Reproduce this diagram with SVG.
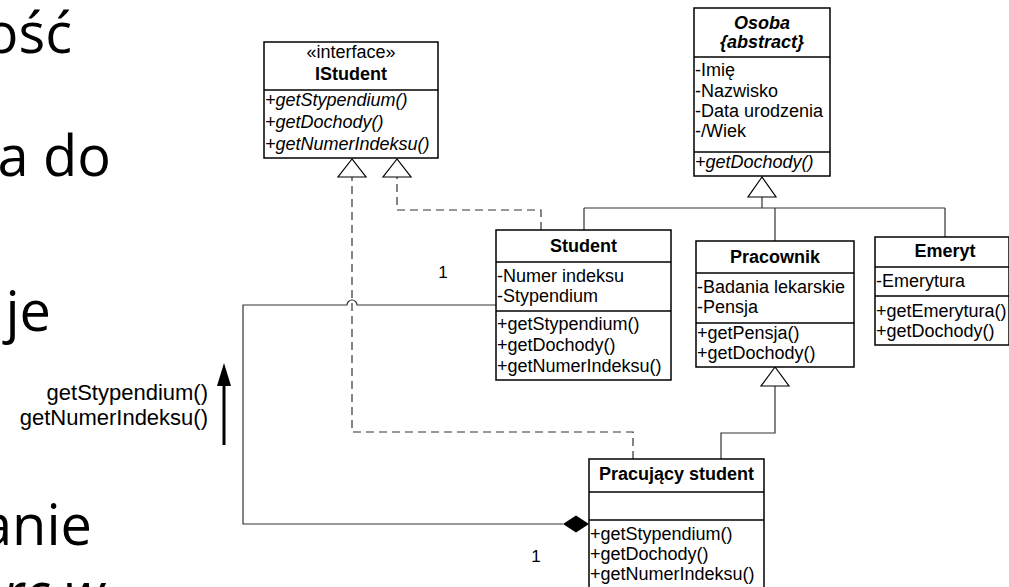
<svg xmlns="http://www.w3.org/2000/svg" width="1009" height="587" viewBox="0 0 1009 587">
<style>
.bg{fill:#fff}
.box{fill:#fff;stroke:#000;stroke-width:1.5}
.sep{stroke:#000;stroke-width:1.5}
.t{font-family:"Liberation Sans",Arial,sans-serif;font-size:18px;fill:#000}
.b{font-weight:bold}
.i{font-style:italic}
.c{text-anchor:middle}
.e{text-anchor:end}
.big{font-family:"Open Sans","Noto Sans",sans-serif;font-size:56px;fill:#000;text-anchor:end}
.ln{fill:none;stroke:#333;stroke-width:1.2}
.dash{stroke-dasharray:8 5}
.tri{fill:#fff;stroke:#000;stroke-width:1.2}
</style>
<rect class="bg" x="0" y="0" width="1009" height="587"/>

<g id="slide-text">
<text class="big" x="72" y="53">ość</text>
<text class="big" x="111" y="176">a do</text>
<text class="big" x="51" y="331">je</text>
<text class="big" x="92" y="545">anie</text>
<text class="big i" x="104" y="613">rc w</text>
</g>

<g id="connectors">
<path class="ln" d="M762,197 V208 M584,208 H945 M584,208 V230 M775,208 V241 M945,208 V237"/>
<polygon class="tri" points="762,177 748,197 776,197"/>
<path class="ln dash" d="M541,230 V210 H397 V177"/>
<polygon class="tri" points="397,159 383,177 411,177"/>
<path class="ln dash" d="M633,459 V432 H352 V177"/>
<polygon class="tri" points="352,159 338,177 366,177"/>
<path class="ln" d="M775,386 V433 H721 V459"/>
<polygon class="tri" points="775,367 761,386 789,386"/>
<path class="ln" d="M496,305 H357 A5,5 0 0 0 347,305 H243 V524 H563"/>
<polygon points="589,524 576,515.5 563,524 576,532.5" fill="#000"/>
<text class="t" x="443" y="278" style="font-size:17px" text-anchor="middle">1</text>
<text class="t" x="536" y="562" style="font-size:17px" text-anchor="middle">1</text>
<line x1="224" y1="445" x2="224" y2="380" stroke="#000" stroke-width="3"/>
<polygon points="224,363 217,386 231,386" fill="#000"/>
<text class="t e" x="208" y="400" style="font-size:22px">getStypendium()</text>
<text class="t e" x="208" y="425" style="font-size:22px">getNumerIndeksu()</text>
</g>

<g id="IStudent">
<rect class="box" x="264" y="42" width="174" height="116"/>
<line class="sep" x1="264" y1="90" x2="438" y2="90"/>
<text class="t c" x="351" y="58">«interface»</text>
<text class="t c b" x="351" y="80">IStudent</text>
<text class="t i" x="265" y="106">+getStypendium()</text>
<text class="t i" x="265" y="128">+getDochody()</text>
<text class="t i" x="265" y="150">+getNumerIndeksu()</text>
</g>

<g id="Osoba">
<rect class="box" x="694" y="8" width="136" height="168"/>
<line class="sep" x1="694" y1="57" x2="830" y2="57"/>
<line class="sep" x1="694" y1="152" x2="830" y2="152"/>
<text class="t c b i" x="762" y="29">Osoba</text>
<text class="t c b i" x="762" y="48">{abstract}</text>
<text class="t" x="695" y="76">-Imię</text>
<text class="t" x="695" y="97">-Nazwisko</text>
<text class="t" x="695" y="117">-Data urodzenia</text>
<text class="t" x="695" y="137">-/Wiek</text>
<text class="t i" x="695" y="168">+getDochody()</text>
</g>

<g id="Student">
<rect class="box" x="496" y="230" width="175" height="150"/>
<line class="sep" x1="496" y1="262" x2="671" y2="262"/>
<line class="sep" x1="496" y1="311" x2="671" y2="311"/>
<text class="t c b" x="583.5" y="252">Student</text>
<text class="t" x="497" y="282">-Numer indeksu</text>
<text class="t" x="497" y="302">-Stypendium</text>
<text class="t" x="497" y="330">+getStypendium()</text>
<text class="t" x="497" y="351">+getDochody()</text>
<text class="t" x="497" y="372">+getNumerIndeksu()</text>
</g>

<g id="Pracownik">
<rect class="box" x="696" y="241" width="158" height="126"/>
<line class="sep" x1="696" y1="273" x2="854" y2="273"/>
<line class="sep" x1="696" y1="323" x2="854" y2="323"/>
<text class="t c b" x="775" y="263">Pracownik</text>
<text class="t" x="697" y="293">-Badania lekarskie</text>
<text class="t" x="697" y="313">-Pensja</text>
<text class="t" x="697" y="339">+getPensja()</text>
<text class="t" x="697" y="359">+getDochody()</text>
</g>

<g id="Emeryt">
<rect class="box" x="875" y="237" width="134" height="108"/>
<line class="sep" x1="875" y1="267" x2="1009" y2="267"/>
<line class="sep" x1="875" y1="296" x2="1009" y2="296"/>
<text class="t c b" x="945" y="257">Emeryt</text>
<text class="t" x="876" y="287">-Emerytura</text>
<text class="t" x="876" y="317">+getEmerytura()</text>
<text class="t" x="876" y="337">+getDochody()</text>
</g>

<g id="PracujacyStudent">
<rect class="box" x="589" y="459" width="175" height="140"/>
<line class="sep" x1="589" y1="492" x2="764" y2="492"/>
<line class="sep" x1="589" y1="520" x2="764" y2="520"/>
<text class="t c b" x="676.5" y="480">Pracujący student</text>
<text class="t" x="590" y="540">+getStypendium()</text>
<text class="t" x="590" y="560">+getDochody()</text>
<text class="t" x="590" y="580">+getNumerIndeksu()</text>
</g>
</svg>
